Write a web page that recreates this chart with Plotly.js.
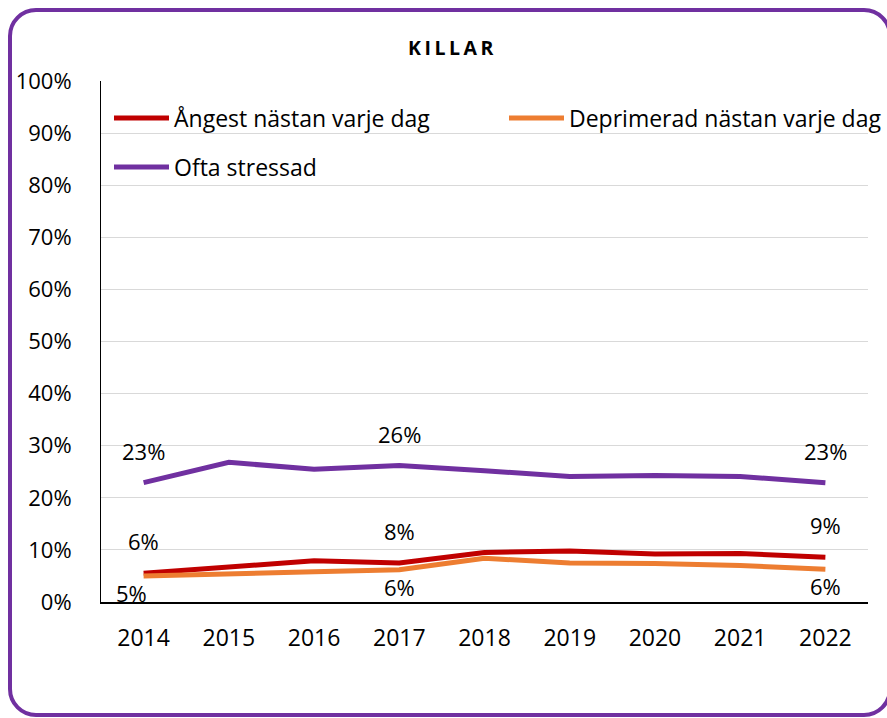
<!DOCTYPE html>
<html>
<head>
<meta charset="utf-8">
<script src="https://cdn.plot.ly/plotly-3.0.1.min.js"></script>
<style>
  html, body { margin: 0; padding: 0; background: #ffffff; }
  #wrap { position: relative; width: 887px; height: 718px; overflow: hidden; }
  #chart { position: absolute; left: 0; top: 0; width: 887px; height: 718px; }
  #frame { position: absolute; left: 8px; top: 8px; width: 884px; height: 709px;
           box-sizing: border-box; border: 4px solid #7030A0; border-radius: 28px;
           pointer-events: none; }
</style>
</head>
<body>
<div id="wrap">
  <div id="chart"></div>
  <div id="frame"></div>
</div>
<script>
const years = [2014, 2015, 2016, 2017, 2018, 2019, 2020, 2021, 2022];
const angest = [5.5, 6.7, 7.9, 7.5, 9.5, 9.8, 9.2, 9.3, 8.6];
const deprimerad = [5.0, 5.3, 5.8, 6.2, 8.4, 7.5, 7.4, 7.0, 6.3];
const stressad = [22.9, 26.8, 25.5, 26.2, 25.2, 24.1, 24.3, 24.1, 22.9];
const seriesNames = ['Ångest nästan varje dag', 'Deprimerad nästan varje dag', 'Ofta stressad'];
const labelIndex = [0, 3, 8];
const xTickLabels = ['2014', '2015', '2016', '2017', '2018', '2019', '2020', '2021', '2022'];
const yTickValues = [0, 10, 20, 30, 40, 50, 60, 70, 80, 90, 100];
const yTickLabels = ['0%', '10%', '20%', '30%', '40%', '50%', '60%', '70%', '80%', '90%', '100%'];

const FONT = 'Open Sans, Noto Sans, sans-serif';
const colors = ['#C00000', '#ED7D31', '#7030A0'];
const allSeries = [angest, deprimerad, stressad];
const labelShift = [32, -17, 32];
const legendIds = ['legend', 'legend2', 'legend3'];

const traces = allSeries.map((vals, i) => ({
  type: 'scatter',
  mode: 'lines',
  x: years,
  y: vals,
  name: seriesNames[i],
  line: { color: colors[i], width: 5 },
  legend: legendIds[i],
  hoverinfo: 'skip'
}));

const annotations = [];
allSeries.forEach((vals, i) => {
  labelIndex.forEach(k => {
    annotations.push({
      x: years[k], y: vals[k], xref: 'x', yref: 'y',
      text: Math.round(vals[k]) + '%',
      showarrow: false,
      yshift: labelShift[i],
      xshift: (i === 1 && k === 0) ? -12 : 0,
      xanchor: 'center', yanchor: 'middle',
      font: { family: FONT, size: 22, color: '#000000' }
    });
  });
});

const legendCommon = {
  orientation: 'v',
  xref: 'paper', yref: 'paper',
  xanchor: 'left', yanchor: 'middle',
  bgcolor: 'rgba(0,0,0,0)',
  font: { family: FONT, size: 23, color: '#000000' },
  itemwidth: 55
};

const layout = {
  width: 887, height: 718,
  margin: { l: 101, r: 19, t: 81, b: 116, pad: 0, autoexpand: false },
  paper_bgcolor: '#ffffff',
  plot_bgcolor: '#ffffff',
  showlegend: true,
  title: {
    text: '<b>KILLAR</b>',
    x: 0.51, xanchor: 'center',
    y: 1 - 48 / 718, yanchor: 'middle', yref: 'container',
    font: { family: FONT, size: 19.5, color: '#000000' }
  },
  xaxis: {
    type: 'linear',
    range: [2013.5, 2022.5],
    tickvals: years, ticktext: xTickLabels,
    showgrid: false,
    showline: true, linecolor: '#000000', linewidth: 1.5,
    ticks: '', ticklabelstandoff: 15,
    tickfont: { family: FONT, size: 23, color: '#000000' },
    zeroline: false, fixedrange: true
  },
  yaxis: {
    range: [0, 100],
    tickvals: yTickValues, ticktext: yTickLabels,
    showgrid: true, gridcolor: '#D9D9D9', gridwidth: 1,
    showline: true, linecolor: '#000000', linewidth: 1,
    ticks: '', ticklabelstandoff: 24,
    tickfont: { family: FONT, size: 22, color: '#000000' },
    zeroline: false, fixedrange: true
  },
  legend: Object.assign({}, legendCommon, { x: 8 / 767, y: 1 - (118 - 81) / 521 }),
  legend2: Object.assign({}, legendCommon, { x: 403 / 767, y: 1 - (118 - 81) / 521 }),
  legend3: Object.assign({}, legendCommon, { x: 8 / 767, y: 1 - (167 - 81) / 521 }),
  annotations: annotations
};

Plotly.newPlot('chart', traces, layout, { staticPlot: true, displayModeBar: false }).then(() => {
  const t = document.querySelector('#chart .gtitle');
  if (t) t.style.letterSpacing = '3.5px';
  document.querySelectorAll('#chart .legendlines path').forEach(p => {
    p.setAttribute('d', 'M5,0h55');
  });
});
</script>
</body>
</html>
